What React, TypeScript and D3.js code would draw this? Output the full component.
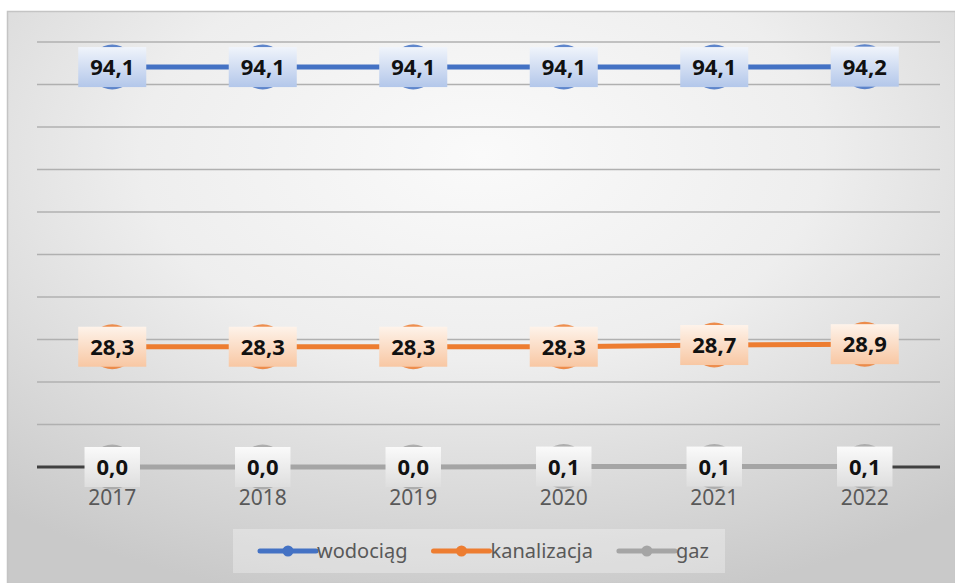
import React, { useEffect, useRef } from 'react'
import * as d3 from 'd3'

// chart data
const years = ['2017', '2018', '2019', '2020', '2021', '2022']
const wodociag = [94.1, 94.1, 94.1, 94.1, 94.1, 94.2]
const kanalizacja = [28.3, 28.3, 28.3, 28.3, 28.7, 28.9]
const gaz = [0.0, 0.0, 0.0, 0.1, 0.1, 0.1]
const gridTicks = [10, 20, 30, 40, 50, 60, 70, 80, 90, 100]

type Series = { name: string; values: number[]; color: string; boxTop: string; boxBottom: string }

const series: Series[] = [
  { name: 'wodociąg', values: wodociag, color: '#4472c4', boxTop: '#f0f4fb', boxBottom: '#b3c7ea' },
  { name: 'kanalizacja', values: kanalizacja, color: '#ed7d31', boxTop: '#fef3ea', boxBottom: '#f8c7a3' },
  { name: 'gaz', values: gaz, color: '#a5a5a5', boxTop: '#fafafa', boxBottom: '#dedede' },
]

const W = 955
const H = 583
const FONT = '"Noto Sans", "Open Sans", sans-serif'

export default function App(): JSX.Element {
  const svgRef = useRef<SVGSVGElement | null>(null)

  useEffect(() => {
    const svg = d3.select(svgRef.current)
    svg.selectAll('*').remove()

    const x = d3.scalePoint<string>().domain(years).range([37, 940]).padding(0.5)
    const y = d3.scaleLinear().domain([0, 100]).range([467, 42])

    const defs = svg.append('defs')
    const bg = defs
      .append('radialGradient')
      .attr('id', 'bg')
      .attr('cx', '50%')
      .attr('cy', '25%')
      .attr('r', '80%')
    bg.append('stop').attr('offset', '0%').attr('stop-color', '#fafafa')
    bg.append('stop').attr('offset', '45%').attr('stop-color', '#eeeeee')
    bg.append('stop').attr('offset', '100%').attr('stop-color', '#c9c9c9')

    series.forEach((s, i) => {
      const g = defs
        .append('linearGradient')
        .attr('id', `box${i}`)
        .attr('x1', 0)
        .attr('y1', 0)
        .attr('x2', 0)
        .attr('y2', 1)
      g.append('stop').attr('offset', '0%').attr('stop-color', s.boxTop)
      g.append('stop').attr('offset', '100%').attr('stop-color', s.boxBottom)
    })

    // chart area
    svg
      .append('rect')
      .attr('x', 7.5)
      .attr('y', 11.5)
      .attr('width', W - 7)
      .attr('height', H - 11)
      .attr('fill', 'url(#bg)')
      .attr('stroke', '#c4c4c4')
      .attr('stroke-width', 1.5)

    // gridlines
    svg
      .append('g')
      .selectAll('line')
      .data(gridTicks)
      .join('line')
      .attr('x1', 37)
      .attr('x2', 940)
      .attr('y1', (d) => y(d))
      .attr('y2', (d) => y(d))
      .attr('stroke', '#b0b0b0')
      .attr('stroke-width', 1.6)

    // axis
    svg
      .append('line')
      .attr('x1', 37)
      .attr('x2', 940)
      .attr('y1', y(0))
      .attr('y2', y(0))
      .attr('stroke', '#404040')
      .attr('stroke-width', 3)

    // year labels
    svg
      .append('g')
      .selectAll('text')
      .data(years)
      .join('text')
      .attr('x', (d) => x(d) as number)
      .attr('y', 505)
      .attr('text-anchor', 'middle')
      .attr('font-family', FONT)
      .attr('font-size', 21)
      .attr('fill', '#595959')
      .text((d) => d)

    const lineFn = d3
      .line<number>()
      .x((_d, i) => x(years[i]) as number)
      .y((d) => y(d))

    // lines
    series.forEach((s) => {
      svg
        .append('path')
        .datum(s.values)
        .attr('fill', 'none')
        .attr('stroke', s.color)
        .attr('stroke-width', 5)
        .attr('d', lineFn)
    })

    // markers + data labels
    series.forEach((s, si) => {
      const g = svg.append('g')
      g.selectAll('circle')
        .data(s.values)
        .join('circle')
        .attr('cx', (_d, i) => x(years[i]) as number)
        .attr('cy', (d) => y(d))
        .attr('r', 22.5)
        .attr('fill', s.color)
        .attr('opacity', 0.85)

      const labels = g
        .selectAll('g.lbl')
        .data(s.values)
        .join('g')
        .attr('class', 'lbl')
        .attr('transform', (d, i) => `translate(${x(years[i])},${y(d)})`)

      const rects = labels.append('rect')
      const texts = labels
        .append('text')
        .attr('text-anchor', 'middle')
        .attr('y', 8)
        .attr('font-family', FONT)
        .attr('font-weight', 'bold')
        .attr('font-size', 22)
        .attr('fill', '#111')
        .text((d) => d3.format('.1f')(d).replace('.', ','))

      texts.each(function (_d, i) {
        const w = (this as SVGTextElement).getComputedTextLength() + 24
        d3.select(rects.nodes()[i])
          .attr('x', -w / 2)
          .attr('y', -20)
          .attr('width', w)
          .attr('height', 40)
          .attr('fill', `url(#box${si})`)
      })
    })

    // legend
    const lg = svg.append('g')
    lg.append('rect')
      .attr('x', 233)
      .attr('y', 529)
      .attr('width', 492)
      .attr('height', 44)
      .attr('fill', '#ffffff')
      .attr('opacity', 0.3)

    let lx = 260
    series.forEach((s) => {
      const item = lg.append('g').attr('transform', `translate(${lx},551)`)
      item
        .append('line')
        .attr('x1', 0)
        .attr('x2', 56)
        .attr('stroke', s.color)
        .attr('stroke-width', 5)
        .attr('stroke-linecap', 'round')
      item.append('circle').attr('cx', 28).attr('r', 5.5).attr('fill', s.color)
      const t = item
        .append('text')
        .attr('x', 57)
        .attr('y', 7)
        .attr('font-family', FONT)
        .attr('font-size', 20)
        .attr('fill', '#595959')
        .text(s.name)
      lx += 57 + (t.node() as SVGTextElement).getComputedTextLength() + 26
    })
  }, [])

  return (
    <div style={{ position: 'absolute', left: 0, top: 0 }}>
      <svg ref={svgRef} width={W} height={H} style={{ display: 'block', background: '#fff' }} />
    </div>
  )
}
